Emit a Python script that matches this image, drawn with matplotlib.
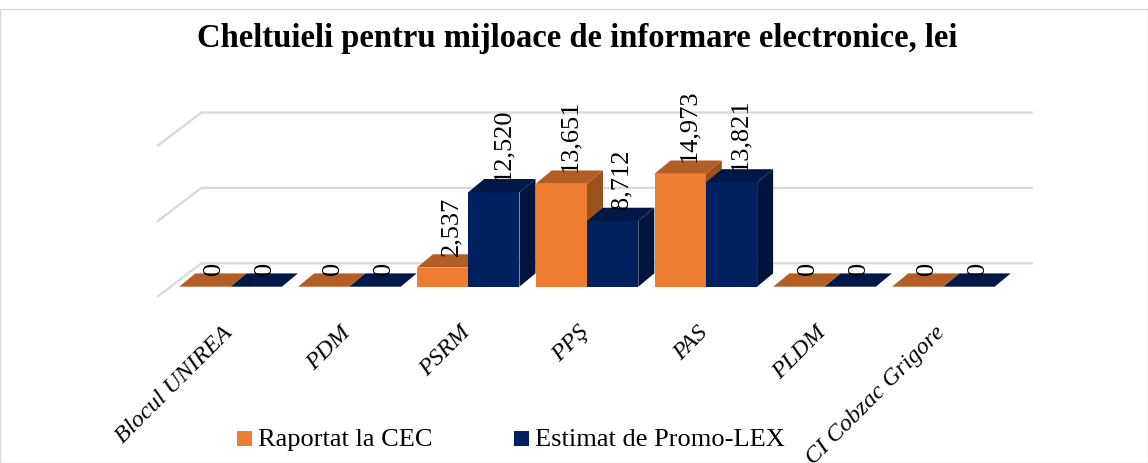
import matplotlib
matplotlib.use('Agg')
import matplotlib.pyplot as plt
from matplotlib.patches import Polygon, Rectangle

#Chart data
parties = ['Blocul UNIREA', 'PDM', 'PSRM', 'PPŞ', 'PAS', 'PLDM', 'CI Cobzac Grigore']
raportat = [0, 0, 2537, 13651, 14973, 0, 0]
estimat = [0, 0, 12520, 8712, 13821, 0, 0]
grid_values = [0, 10000, 20000]
series_names = ['Raportat la CEC', 'Estimat de Promo-LEX']
title = 'Cheltuieli pentru mijloace de informare electronice, lei'

W, H = 1148, 464
#Pixel scale of the axes
PX_X = 118.8
PX_Y = 0.00754
X0 = 230.6
Y0 = 287.7

plt.rcParams['font.family'] = ['Liberation Serif', 'DejaVu Serif']

fig = plt.figure(figsize=(W/100, H/100), dpi=100)
ax = fig.add_axes([0, 0, 1, 1])
ax.set_xlim(-X0/PX_X, (W-X0)/PX_X)
ax.set_ylim(-(H-Y0)/PX_Y, Y0/PX_Y)
ax.axis('off')

#Depth of the bars, in data units
bar_w = 51.3/PX_X
dx = 16/PX_X
dy = 13.3/PX_Y

#Floor and wall gridlines
floor_dx = 44.5/PX_X
floor_dy = 33.7/PX_Y
grid_left = (157-X0)/PX_X
grid_right = (1033-X0)/PX_X
floor_front = -10.3/PX_Y
for v in grid_values:
    ys = floor_front+v
    ax.plot([grid_left, grid_left+floor_dx, grid_right], [ys, ys+floor_dy, ys+floor_dy],
            color='#d9d9d9', lw=1.6, zorder=1, solid_capstyle='butt')

def draw_bar(x, val, c_front, c_top, c_side, z):
    ax.bar(x, val, width=bar_w, align='edge', color=c_front, zorder=z, linewidth=0)
    ax.add_patch(Polygon([(x, val), (x+bar_w, val), (x+bar_w+dx, val+dy), (x+dx, val+dy)],
                         facecolor=c_top, edgecolor='none', zorder=z))
    if val > 0:
        ax.add_patch(Polygon([(x+bar_w, 0), (x+bar_w+dx, dy), (x+bar_w+dx, val+dy), (x+bar_w, val)],
                             facecolor=c_side, edgecolor='none', zorder=z))

for i in range(len(parties)):
    z = 3+i
    draw_bar(i-bar_w, raportat[i], '#ed7d31', '#b35e25', '#9a5220', z)
    draw_bar(i, estimat[i], '#002060', '#001848', '#00143d', z+0.5)

#Value labels
for i in range(len(parties)):
    for x, val in [(i-bar_w/2, raportat[i]), (i+bar_w/2, estimat[i])]:
        ax.text(x+dx*0.55, val+dy*0.95, format(val, ','), rotation=90, ha='center', va='bottom',
                fontsize=19, color='black', zorder=20)

#Category labels
for i, name in enumerate(parties):
    ax.text(i-0.075, -(322-Y0)/PX_Y, name, rotation=45, rotation_mode='anchor', ha='right', va='top',
            fontsize=17.5, style='italic', color='black', zorder=20)

ax.text(0.5025, 1-39/H, title, transform=ax.transAxes, ha='center', va='center',
        fontsize=23.5, fontweight='bold', color='black')

#Legend
for px, tx, col, name in [(237, 258, '#ed7d31', series_names[0]), (514, 535, '#002060', series_names[1])]:
    fig.add_artist(Rectangle((px/W, 1-447/H), 15/W, 15/H, transform=fig.transFigure, facecolor=col, edgecolor='none'))
    fig.text(tx/W, 1-440/H, name, ha='left', va='center', fontsize=19, color='black')

fig.add_artist(Rectangle((0, 0), 1, 1-10/H, transform=fig.transFigure, facecolor='none', edgecolor='#d9d9d9', lw=1))

fig.savefig('out.png', dpi=100)
